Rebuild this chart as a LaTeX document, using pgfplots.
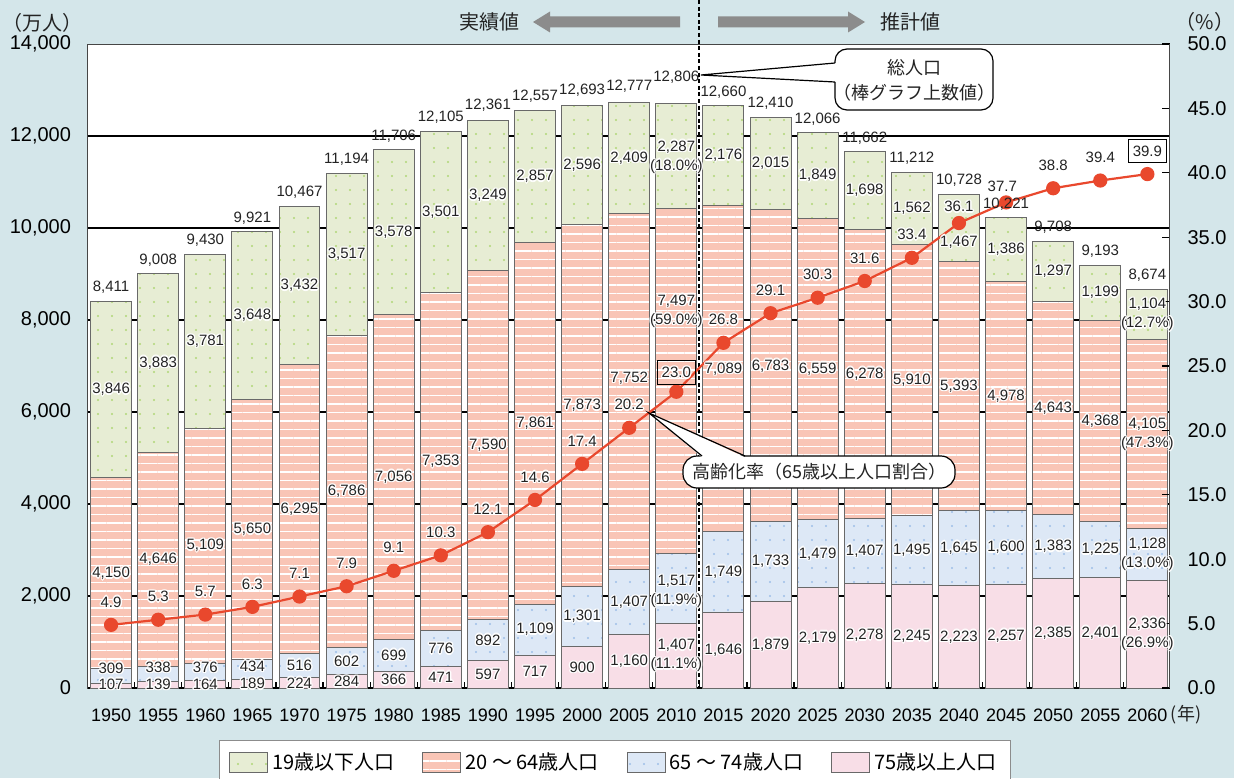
\documentclass[border=0pt]{standalone}
\usepackage{pgfplots}
\pgfplotsset{compat=1.18}
\usepackage{pgfplotstable}
\usetikzlibrary{patterns.meta}
\usepackage{fontspec}
\setmainfont{Liberation Sans}
\newfontfamily\cjk{Noto Sans CJK JP}

\definecolor{bgc}{RGB}{212,230,234}
\definecolor{cgreen}{RGB}{231,237,212}
\definecolor{cgreendot}{RGB}{176,214,118}
\definecolor{csalmon}{RGB}{249,197,182}
\definecolor{cblue}{RGB}{221,232,246}
\definecolor{cbluedot}{RGB}{158,190,232}
\definecolor{cpink}{RGB}{248,222,231}
\definecolor{cline}{RGB}{233,72,45}
\definecolor{cbar}{RGB}{105,105,105}
\definecolor{carrow}{RGB}{140,140,140}
\definecolor{cframe}{RGB}{70,70,70}
\definecolor{ctext}{RGB}{35,35,35}

\newcommand\halo[1]{{\setbox0\hbox{{\color{ctext}#1}}\setbox2\hbox{{\color{white}#1}}%
\rlap{\kern.7pt\copy2}\rlap{\kern-.7pt\copy2}\rlap{\raise.7pt\copy2}\rlap{\lower.7pt\copy2}%
\rlap{\kern.5pt\raise.5pt\copy2}\rlap{\kern-.5pt\raise.5pt\copy2}%
\rlap{\kern.5pt\lower.5pt\copy2}\rlap{\kern-.5pt\lower.5pt\copy2}\box0}}
\newcommand\lf{\fontsize{7.5}{9.6}\selectfont}

\pgfplotstableread{
i a75 a65 a20 a19 rate
0 107 309 4150 3846 4.9
1 139 338 4646 3883 5.3
2 164 376 5109 3781 5.7
3 189 434 5650 3648 6.3
4 224 516 6295 3432 7.1
5 284 602 6786 3517 7.9
6 366 699 7056 3578 9.1
7 471 776 7353 3501 10.3
8 597 892 7590 3249 12.1
9 717 1109 7861 2857 14.6
10 900 1301 7873 2596 17.4
11 1160 1407 7752 2409 20.2
12 1407 1517 7497 2287 23.0
13 1646 1749 7089 2176 26.8
14 1879 1733 6783 2015 29.1
15 2179 1479 6559 1849 30.3
16 2278 1407 6278 1698 31.6
17 2245 1495 5910 1562 33.4
18 2223 1645 5393 1467 36.1
19 2257 1600 4978 1386 37.7
20 2385 1383 4643 1297 38.8
21 2401 1225 4368 1199 39.4
22 2336 1128 4105 1104 39.9
}\popdata

\pgfplotstableread{
x y t
0 90 107
1 90 139
2 90 164
3 95 189
4 112 224
5 142 284
6 183 366
7 236 471
8 299 597
9 359 717
10 450 900
11 580 1,160
13 823 1,646
14 940 1,879
15 1090 2,179
16 1139 2,278
17 1123 2,245
18 1112 2,223
19 1129 2,257
20 1193 2,385
21 1201 2,401
0 435 309
1 456 338
2 456 376
3 478 434
4 500 516
5 585 602
6 716 699
7 859 776
8 1043 892
9 1272 1,109
10 1551 1,301
11 1864 1,407
13 2521 1,749
14 2746 1,733
15 2919 1,479
16 2982 1,407
17 2993 1,495
18 3046 1,645
19 3057 1,600
20 3077 1,383
21 3014 1,225
0 2491 4,150
1 2800 4,646
2 3095 5,109
3 3448 5,650
4 3888 6,295
5 4279 6,786
6 4593 7,056
7 4924 7,353
8 5284 7,590
9 5757 7,861
10 6138 7,873
11 6739 7,752
13 6940 7,089
14 7004 6,783
15 6938 6,559
16 6824 6,278
17 6695 5,910
18 6565 5,393
19 6346 4,978
20 6090 4,643
21 5810 4,368
0 6489 3,846
1 7065 3,883
2 7540 3,781
3 8097 3,648
4 8751 3,432
5 9431 3,517
6 9910 3,578
7 10351 3,501
8 10704 3,249
9 11116 2,857
10 11372 2,596
11 11524 2,409
13 11572 2,176
14 11403 2,015
15 11142 1,849
16 10812 1,698
17 10431 1,562
18 9696 1,467
19 9528 1,386
20 9060 1,297
21 8594 1,199
0 1872 4.9
1 1984 5.3
2 2096 5.7
3 2264 6.3
4 2488 7.1
5 2712 7.9
6 3048 9.1
7 3384 10.3
8 3888 12.1
9 4588 14.6
10 5372 17.4
11 6156 20.2
13 8004 26.8
14 8648 29.1
15 8984 30.3
16 9348 31.6
17 9852 33.4
18 10468 36.1
18.92 10916 37.7
20 11364 38.8
21 11532 39.4
}\seglabels

\pgfplotstableread{
x y t
0 8711 8,411
1 9308 9,008
2 9730 9,430
3 10221 9,921
4 10767 10,467
5 11494 11,194
6 12006 11,706
7 12405 12,105
8 12661 12,361
9 12857 12,557
10 12993 12,693
11 13077 12,777
12 13276 12,806
13 12960 12,660
14 12710 12,410
15 12366 12,066
16 11962 11,662
17 11512 11,212
18 11028 10,728
19 10521 10,221
20 10008 9,708
21 9493 9,193
22 8974 8,674
}\totlabels

\pgfplotstableread{
x y t
12 6853 23.0
22 11672 39.9
}\boxlabels

\pgfplotsset{
  legsq/.style={legend image code/.code={\draw[##1] (0pt,-5pt) rectangle (19pt,5pt);}},
  geom/.style={at={(44pt,45pt)}, anchor=south west, scale only axis,
    width=540.75pt, height=322pt, xmin=-0.49, xmax=22.47},
}

\begin{document}
\begin{tikzpicture}
\useasboundingbox (0,0) rectangle (617pt,389pt);
\fill[bgc] (0,0) rectangle (617pt,389pt);

\begin{axis}[geom,
  ymin=0, ymax=14000,
  ybar stacked, bar width=0.87,
  axis background/.style={fill=white},
  axis line style={draw=cframe, line width=0.5pt},
  ytick={2000,4000,...,12000}, extra y ticks={0,14000},
  extra y tick style={grid=none},
  scaled y ticks=false,
  ymajorgrids, grid style={black, line width=0.9pt},
  ytick pos=left, xtick pos=bottom,
  xtick={0,...,22},
  xticklabels={1950,1955,1960,1965,1970,1975,1980,1985,1990,1995,2000,2005,2010,2015,2020,2025,2030,2035,2040,2045,2050,2055,2060},
  minor xtick={0.5,1.5,...,21.5},
  major tick length=0pt, minor tick length=3pt, tick align=inside,
  minor tick style={black, line width=0.6pt},
  yticklabel style={font=\fontsize{10}{12}\selectfont, xshift=-5pt},
  xticklabel style={font=\fontsize{9}{11}\selectfont, yshift=-7pt},
  /pgf/number format/.cd, 1000 sep={,}, assume math mode=true, /pgfplots/.cd,
  reverse legend, legend columns=4, legend cell align=left,
  legend style={at={(0.487,-0.0807)}, anchor=north, draw=black!45, fill=white,
    line width=0.5pt, inner xsep=5pt, inner ysep=4pt,
    font=\cjk\fontsize{10}{12}\selectfont,
    /tikz/every even column/.append style={column sep=12pt}},
]
\addplot[legsq, fill=cpink, draw=cbar, line width=0.5pt] table[x=i,y=a75]{\popdata};
\addlegendentry{75歳以上人口}
\addplot[legsq, fill=cblue, draw=cbar, line width=0.5pt,
  postaction={pattern={Dots[radius=0.55pt,distance=7pt]}, pattern color=cbluedot}] table[x=i,y=a65]{\popdata};
\addlegendentry{65 ～ 74歳人口}
\addplot[legsq, fill=csalmon, draw=cbar, line width=0.5pt,
  postaction={pattern={Lines[angle=0,distance=4.25pt,line width=0.6pt]}, pattern color=white}] table[x=i,y=a20]{\popdata};
\addlegendentry{20 ～ 64歳人口}
\addplot[legsq, fill=cgreen, draw=cbar, line width=0.5pt,
  postaction={pattern={Dots[radius=0.55pt,distance=7pt]}, pattern color=cgreendot}] table[x=i,y=a19]{\popdata};
\addlegendentry{19歳以下人口}
\draw[black, line width=1pt] (rel axis cs:0,0) -- (rel axis cs:1,0);
\end{axis}

% dashed divider
\draw[black, line width=0.55pt, dash pattern=on 2pt off 1.3pt] (349.5pt,389pt) -- (349.5pt,45pt);

\begin{axis}[geom,
  ymin=0, ymax=50,
  axis x line=none, axis y line*=right,
  axis line style={draw=cframe, line width=0.5pt},
  ytick={0,5,...,50}, major tick length=4pt, tick align=inside,
  ytick style={black, line width=0.6pt},
  yticklabel style={font=\fontsize{10}{12}\selectfont, xshift=5.5pt,
    /pgf/number format/.cd, fixed, fixed zerofill, precision=1, assume math mode=true},
]
\addplot[cline, line width=1.1pt, mark=*, mark size=3pt, mark options={fill=cline, draw=cline}] table[x=i,y=rate]{\popdata};
\end{axis}

\begin{axis}[geom, ymin=0, ymax=14000, hide axis, clip=false]
\addplot[draw=none, mark=none, point meta=explicit symbolic,
  nodes near coords={\halo{\pgfplotspointmeta}}, nodes near coords align=center,
  every node near coord/.append style={anchor=center, font=\lf, inner sep=0pt}]
  table[x=x,y=y,meta=t]{\seglabels};
\addplot[draw=none, mark=none, point meta=explicit symbolic,
  nodes near coords={\pgfplotspointmeta}, nodes near coords align=center,
  every node near coord/.append style={anchor=center, font=\lf, inner sep=0pt, text=ctext}]
  table[x=x,y=y,meta=t]{\totlabels};
\addplot[draw=none, mark=none, point meta=explicit symbolic,
  nodes near coords={\halo{\pgfplotspointmeta}}, nodes near coords align=center,
  every node near coord/.append style={anchor=center, font=\lf, draw=black, line width=0.5pt, inner xsep=2.2pt, inner ysep=2.6pt}]
  table[x=x,y=y,meta=t]{\boxlabels};
\node[align=center, font=\lf, inner sep=0pt] at (axis cs:12,11543) {\halo{2,287}\\\halo{(18.0\%)}};
\node[align=center, font=\lf, inner sep=0pt] at (axis cs:12,8196) {\halo{7,497}\\\halo{(59.0\%)}};
\node[align=center, font=\lf, inner sep=0pt] at (axis cs:12,2100) {\halo{1,517}\\\halo{(11.9\%)}};
\node[align=center, font=\lf, inner sep=0pt] at (axis cs:12,703) {\halo{1,407}\\\halo{(11.1\%)}};
\node[align=center, font=\lf, inner sep=0pt] at (axis cs:22,8121) {\halo{1,104}\\\halo{(12.7\%)}};
\node[align=center, font=\lf, inner sep=0pt] at (axis cs:22,5517) {\halo{4,105}\\\halo{(47.3\%)}};
\node[align=center, font=\lf, inner sep=0pt] at (axis cs:22,2900) {\halo{1,128}\\\halo{(13.0\%)}};
\node[align=center, font=\lf, inner sep=0pt] at (axis cs:22,1168) {\halo{2,336}\\\halo{(26.9\%)}};
\end{axis}

% callout: total population
\draw[fill=white, rounded corners=6pt, line width=0.6pt] (417.5pt,334pt) rectangle (496.5pt,364.5pt);
\fill[white] (418.3pt,357.5pt) -- (350.5pt,351.5pt) -- (418.3pt,348pt) -- cycle;
\draw[line width=0.6pt] (417.5pt,357.5pt) -- (350.5pt,351.5pt) -- (417.5pt,348pt);
\node[font=\cjk\fontsize{9}{11}\selectfont, text=ctext] at (457pt,355pt) {総人口};
\node[font=\cjk\fontsize{9}{11}\selectfont, text=ctext] at (457pt,342.5pt) {（棒グラフ上数値）};

% callout: aging rate
\draw[fill=white, rounded corners=7pt, line width=0.6pt] (341.5pt,145pt) rectangle (477.5pt,161pt);
\fill[white] (351pt,160.3pt) -- (324.5pt,182.5pt) -- (372.5pt,160.3pt) -- cycle;
\draw[line width=0.6pt] (351pt,161pt) -- (324.5pt,182.5pt) -- (372.5pt,161pt);
\node[font=\cjk\fontsize{9}{11}\selectfont, text=ctext] at (409.5pt,153pt) {高齢化率（65歳以上人口割合）};

% header arrows and texts
\fill[carrow] (266.5pt,378pt) -- (275pt,383.25pt) -- (275pt,380.75pt) -- (340pt,380.75pt) -- (340pt,375.25pt) -- (275pt,375.25pt) -- (275pt,372.75pt) -- cycle;
\fill[carrow] (359pt,380.75pt) -- (424pt,380.75pt) -- (424pt,383.25pt) -- (432.5pt,378pt) -- (424pt,372.75pt) -- (424pt,375.25pt) -- (359pt,375.25pt) -- cycle;
\node[font=\cjk\fontsize{10}{12}\selectfont, text=ctext] at (244.5pt,378pt) {実績値};
\node[font=\cjk\fontsize{10}{12}\selectfont, text=ctext] at (455pt,378pt) {推計値};
\node[font=\cjk\fontsize{10}{12}\selectfont, text=ctext] at (21.5pt,377.5pt) {（万人）};
\node[font=\cjk\fontsize{10}{12}\selectfont, text=ctext] at (602.5pt,378pt) {（\%）};
\node[font=\cjk\fontsize{9}{11}\selectfont, text=ctext] at (593pt,31.5pt) {(年)};
\end{tikzpicture}
\end{document}
